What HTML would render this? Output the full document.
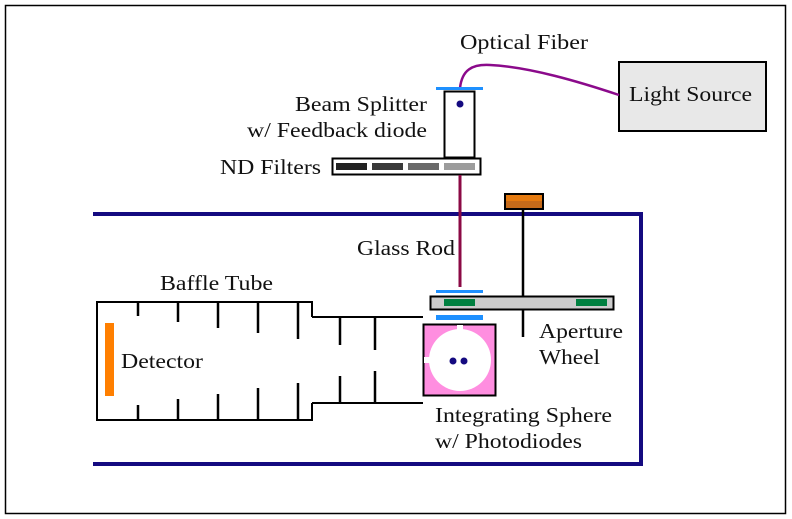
<!DOCTYPE html>
<html><head><meta charset="utf-8"><style>
html,body{margin:0;padding:0;background:#fff;}
svg{display:block;}
svg text{font-family:"Liberation Serif","Times New Roman",serif;font-size:21px;fill:#111;}
</style></head><body>
<svg width="792" height="519" viewBox="0 0 792 519" xmlns="http://www.w3.org/2000/svg" font-family="Liberation Serif, serif" font-size="21">
<rect x="5.5" y="5.5" width="780" height="508" fill="#fff" stroke="#000" stroke-width="1.5"/>
<polyline points="93,214 641,214 641,464 93,464" fill="none" stroke="#140a80" stroke-width="4"/>
<rect x="619" y="62" width="147" height="69" fill="#e8e8e8" stroke="#000" stroke-width="2"/>
<text x="629" y="101" textLength="123" lengthAdjust="spacingAndGlyphs">Light Source</text>
<text x="460" y="49" textLength="128" lengthAdjust="spacingAndGlyphs">Optical Fiber</text>
<path d="M460,88 C462,70 472,64 490,65 C530,67 580,82 619,95" fill="none" stroke="#8b0a8b" stroke-width="2.5"/>
<rect x="444.5" y="91.5" width="30" height="66" fill="#fff" stroke="#000" stroke-width="2"/>
<rect x="436" y="87" width="47" height="3" fill="#1e90ff"/>
<circle cx="460" cy="104" r="3.5" fill="#140a80"/>
<text x="295" y="111" textLength="132" lengthAdjust="spacingAndGlyphs">Beam Splitter</text>
<text x="247" y="137" textLength="180" lengthAdjust="spacingAndGlyphs">w/ Feedback diode</text>
<rect x="332.5" y="158.5" width="148" height="16" fill="#fff" stroke="#000" stroke-width="2"/>
<rect x="336" y="163" width="31" height="7" fill="#222"/>
<rect x="372" y="163" width="31" height="7" fill="#3a3a3a"/>
<rect x="408" y="163" width="31" height="7" fill="#6a6a6a"/>
<rect x="444" y="163" width="31" height="7" fill="#9c9c9c"/>
<text x="220" y="174" textLength="101" lengthAdjust="spacingAndGlyphs">ND Filters</text>
<line x1="460" y1="175" x2="460" y2="287" stroke="#8b0a45" stroke-width="3"/>
<text x="357" y="255" textLength="98" lengthAdjust="spacingAndGlyphs">Glass Rod</text>
<rect x="505" y="194" width="38" height="15" fill="#c56a1a" stroke="#000" stroke-width="2"/>
<rect x="506" y="195" width="36" height="6" fill="#e57a10"/>
<line x1="523" y1="209" x2="523" y2="296" stroke="#000" stroke-width="2.5"/>
<line x1="523" y1="309" x2="523" y2="337" stroke="#000" stroke-width="2.5"/>
<rect x="430.5" y="296.5" width="183" height="13" fill="#cccccc" stroke="#000" stroke-width="2"/>
<rect x="444" y="299" width="31" height="7" fill="#008040"/>
<rect x="576" y="299" width="31" height="7" fill="#008040"/>
<rect x="436" y="290" width="47" height="3" fill="#1e90ff"/>
<rect x="436" y="315" width="47" height="5" fill="#1e90ff"/>
<text x="539" y="338" textLength="84" lengthAdjust="spacingAndGlyphs">Aperture</text>
<text x="539" y="364" textLength="61" lengthAdjust="spacingAndGlyphs">Wheel</text>
<rect x="423.5" y="324.5" width="72" height="71" fill="#ff8ee0" stroke="#000" stroke-width="2"/>
<circle cx="460" cy="360" r="31" fill="#fff"/>
<rect x="457" y="325" width="6" height="6" fill="#fff"/>
<rect x="424" y="357" width="8" height="6" fill="#fff"/>
<circle cx="453" cy="361" r="3.5" fill="#140a80"/>
<circle cx="464" cy="361" r="3.5" fill="#140a80"/>
<text x="435" y="422" textLength="177" lengthAdjust="spacingAndGlyphs">Integrating Sphere</text>
<text x="435" y="448" textLength="147" lengthAdjust="spacingAndGlyphs">w/ Photodiodes</text>
<polyline points="312,317 312,302 97,302 97,420 312,420 312,403" fill="none" stroke="#000" stroke-width="2"/>
<polyline points="312,317 423,317" fill="none" stroke="#000" stroke-width="2"/>
<polyline points="312,403 423,403" fill="none" stroke="#000" stroke-width="2"/>
<g stroke="#000" stroke-width="2.5">
<line x1="138" y1="302" x2="138" y2="316"/><line x1="138" y1="405" x2="138" y2="420"/>
<line x1="178" y1="302" x2="178" y2="322"/><line x1="178" y1="399" x2="178" y2="420"/>
<line x1="218" y1="302" x2="218" y2="328"/><line x1="218" y1="394" x2="218" y2="420"/>
<line x1="258" y1="302" x2="258" y2="333"/><line x1="258" y1="388" x2="258" y2="420"/>
<line x1="298" y1="302" x2="298" y2="339"/><line x1="298" y1="383" x2="298" y2="420"/>
<line x1="340" y1="317" x2="340" y2="345"/><line x1="340" y1="376" x2="340" y2="403"/>
<line x1="375" y1="317" x2="375" y2="350"/><line x1="375" y1="371" x2="375" y2="403"/>
</g>
<rect x="105" y="323" width="9" height="73" fill="#ff7f00"/>
<text x="121" y="368" textLength="82" lengthAdjust="spacingAndGlyphs">Detector</text>
<text x="160" y="290" textLength="113" lengthAdjust="spacingAndGlyphs">Baffle Tube</text>
</svg>
</body></html>
